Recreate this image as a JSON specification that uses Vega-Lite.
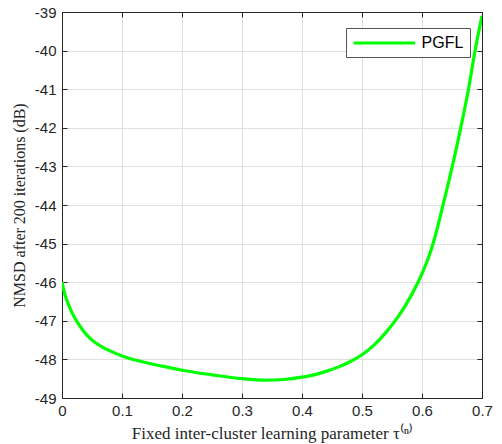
{
  "$schema": "https://vega.github.io/schema/vega-lite/v6.json",
  "width": 420,
  "height": 386,
  "autosize": {"type": "none"},
  "padding": {"left": 62, "top": 12, "right": 20, "bottom": 46},
  "background": "white",
  "config": {
    "view": {"stroke": "#262626", "strokeWidth": 1},
    "axis": {
      "domainColor": "#262626",
      "domainWidth": 1,
      "tickColor": "#262626",
      "tickSize": -5,
      "tickWidth": 1,
      "labelColor": "#262626",
      "labelFont": "Liberation Sans",
      "labelFontSize": 15,
      "titleFont": "Liberation Serif",
      "titleFontSize": 16,
      "titleFontWeight": "normal",
      "titleColor": "#262626",
      "gridColor": "#dfdfdf",
      "gridWidth": 1
    }
  },
  "data": {
    "values": [
      {"tau": 0.0, "nmsd": -46.0, "series": "PGFL"},
      {"tau": 0.005, "nmsd": -46.33, "series": "PGFL"},
      {"tau": 0.01, "nmsd": -46.55, "series": "PGFL"},
      {"tau": 0.017, "nmsd": -46.8, "series": "PGFL"},
      {"tau": 0.025, "nmsd": -47.02, "series": "PGFL"},
      {"tau": 0.035, "nmsd": -47.25, "series": "PGFL"},
      {"tau": 0.05, "nmsd": -47.5, "series": "PGFL"},
      {"tau": 0.065, "nmsd": -47.66, "series": "PGFL"},
      {"tau": 0.08, "nmsd": -47.78, "series": "PGFL"},
      {"tau": 0.1, "nmsd": -47.91, "series": "PGFL"},
      {"tau": 0.125, "nmsd": -48.03, "series": "PGFL"},
      {"tau": 0.15, "nmsd": -48.12, "series": "PGFL"},
      {"tau": 0.175, "nmsd": -48.2, "series": "PGFL"},
      {"tau": 0.2, "nmsd": -48.28, "series": "PGFL"},
      {"tau": 0.25, "nmsd": -48.4, "series": "PGFL"},
      {"tau": 0.3, "nmsd": -48.5, "series": "PGFL"},
      {"tau": 0.34, "nmsd": -48.54, "series": "PGFL"},
      {"tau": 0.37, "nmsd": -48.52, "series": "PGFL"},
      {"tau": 0.4, "nmsd": -48.46, "series": "PGFL"},
      {"tau": 0.42, "nmsd": -48.4, "series": "PGFL"},
      {"tau": 0.44, "nmsd": -48.31, "series": "PGFL"},
      {"tau": 0.46, "nmsd": -48.2, "series": "PGFL"},
      {"tau": 0.48, "nmsd": -48.06, "series": "PGFL"},
      {"tau": 0.5, "nmsd": -47.88, "series": "PGFL"},
      {"tau": 0.52, "nmsd": -47.63, "series": "PGFL"},
      {"tau": 0.54, "nmsd": -47.3, "series": "PGFL"},
      {"tau": 0.56, "nmsd": -46.9, "series": "PGFL"},
      {"tau": 0.58, "nmsd": -46.4, "series": "PGFL"},
      {"tau": 0.6, "nmsd": -45.78, "series": "PGFL"},
      {"tau": 0.61, "nmsd": -45.4, "series": "PGFL"},
      {"tau": 0.62, "nmsd": -44.92, "series": "PGFL"},
      {"tau": 0.635, "nmsd": -44.0, "series": "PGFL"},
      {"tau": 0.6505, "nmsd": -43.0, "series": "PGFL"},
      {"tau": 0.6645, "nmsd": -42.0, "series": "PGFL"},
      {"tau": 0.6775, "nmsd": -41.0, "series": "PGFL"},
      {"tau": 0.6885, "nmsd": -40.0, "series": "PGFL"},
      {"tau": 0.7, "nmsd": -39.1, "series": "PGFL"}
    ]
  },
  "layer": [
    {
      "mark": {"type": "line", "strokeWidth": 3.2, "interpolate": "monotone", "clip": true},
      "encoding": {
        "x": {
          "field": "tau", "type": "quantitative",
          "scale": {"domain": [0, 0.7], "nice": false, "zero": false},
          "axis": {"orient": "bottom", "values": [0, 0.1, 0.2, 0.3, 0.4, 0.5, 0.6, 0.7], "format": ".1~f", "labelPadding": 10, "titlePadding": 7, "title": "Fixed inter-cluster learning parameter τ⁽ⁿ⁾", "titleFontSize": 17, "grid": true, "labelFlush": false}
        },
        "y": {
          "field": "nmsd", "type": "quantitative",
          "scale": {"domain": [-49, -39], "nice": false, "zero": false},
          "axis": {"orient": "left", "values": [-49, -48, -47, -46, -45, -44, -43, -42, -41, -40, -39], "labelExpr": "toString(datum.value)", "labelPadding": 11, "titlePadding": 7, "title": "NMSD after 200 iterations (dB)", "grid": true}
        },
        "color": {
          "field": "series", "type": "nominal",
          "scale": {"domain": ["PGFL"], "range": ["#00ff00"]},
          "legend": {
            "title": null,
            "orient": "none",
            "legendX": 284,
            "legendY": 16,
            "symbolType": "M-1,0H7.2",
            "symbolSize": 225,
            "symbolStrokeWidth": 3,
            "labelFont": "Liberation Sans",
            "labelFontSize": 16,
            "labelColor": "#000000",
            "labelOffset": 51.6,
            "padding": 6,
            "fillColor": "white",
            "strokeColor": "#555555"
          }
        }
      }
    },
    {
      "mark": {"type": "line", "strokeOpacity": 0},
      "encoding": {
        "x": {
          "field": "tau", "type": "quantitative",
          "scale": {"domain": [0, 0.7], "nice": false, "zero": false},
          "axis": {"orient": "top", "values": [0, 0.1, 0.2, 0.3, 0.4, 0.5, 0.6, 0.7], "labels": false, "title": null, "grid": false}
        },
        "y": {
          "field": "nmsd", "type": "quantitative",
          "scale": {"domain": [-49, -39], "nice": false, "zero": false},
          "axis": {"orient": "right", "values": [-49, -48, -47, -46, -45, -44, -43, -42, -41, -40, -39], "labels": false, "title": null, "grid": false}
        }
      }
    }
  ],
  "resolve": {"axis": {"x": "independent", "y": "independent"}}
}
